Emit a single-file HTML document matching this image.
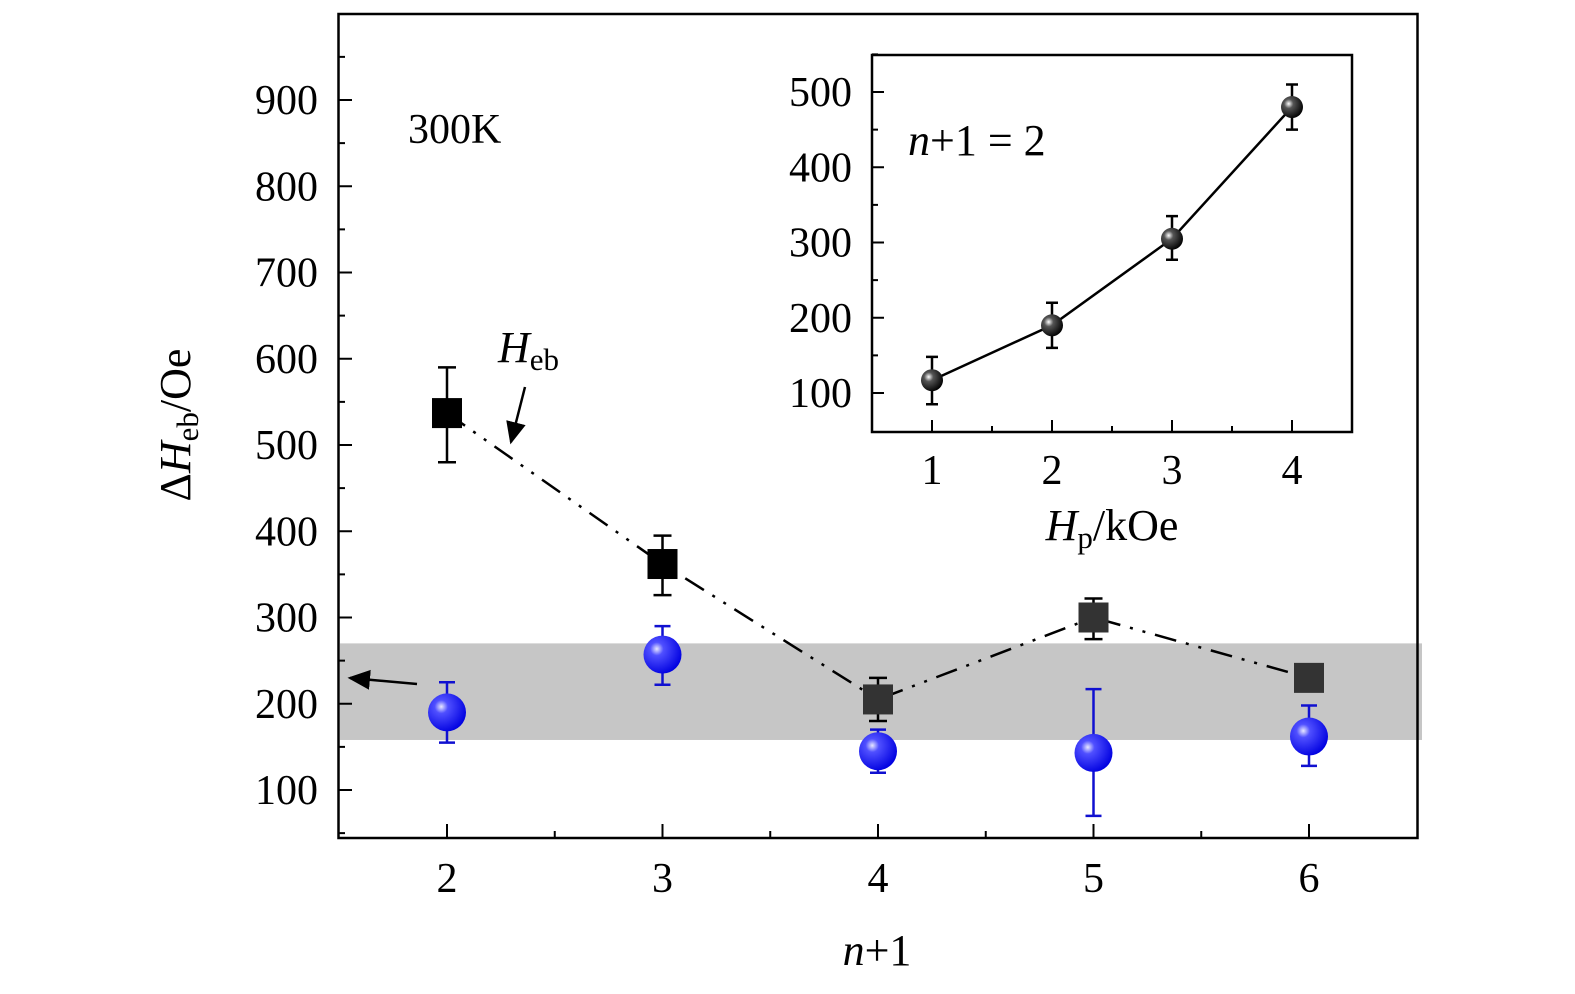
<!DOCTYPE html>
<html><head><meta charset="utf-8"><style>
html,body{margin:0;padding:0;background:#fff;overflow:hidden;width:1575px;height:994px;}
svg{display:block;}
svg text{font-family:"Liberation Serif",serif;fill:#000;}
</style></head><body>
<svg id="c" width="1575" height="994" xmlns="http://www.w3.org/2000/svg">
<defs>
<radialGradient id="bg" cx="0.35" cy="0.35" r="0.7"><stop offset="0" stop-color="#e8e8ff"/><stop offset="0.25" stop-color="#5050ff"/><stop offset="1" stop-color="#0000e0"/></radialGradient>
<radialGradient id="kg" cx="0.35" cy="0.35" r="0.7"><stop offset="0" stop-color="#fff"/><stop offset="0.3" stop-color="#555"/><stop offset="1" stop-color="#000"/></radialGradient>
<marker id="ah" markerWidth="10" markerHeight="10" refX="8" refY="5" orient="auto"><path d="M0,1 L9,5 L0,9 Z" fill="#000"/></marker>
</defs>
<g id="main"></g>
<g id="inset"></g>
</svg>
<script>
const cats=[2,3,4,5,6];
const hebVals=[537,362,205,300,230];
const hebLo=[480,326,180,275,218];
const hebHi=[590,395,230,322,240];
const dVals=[190,257,145,143,162];
const dLo=[155,222,120,70,128];
const dHi=[225,290,170,217,198];
const yTicks=[100,200,300,400,500,600,700,800,900];
const xTicks=[2,3,4,5,6];
const band=[158,270];
const insX=[1,2,3,4];
const insVals=[117,190,305,480];
const insLo=[85,160,277,450];
const insHi=[148,220,335,510];
const insYTicks=[100,200,300,400,500];

const NS="http://www.w3.org/2000/svg";
function el(p,t,a,name,txt){const e=document.createElementNS(NS,t);for(const k in a)e.setAttribute(k,a[k]);


if(txt!==undefined)e.textContent=txt;p.appendChild(e);return e;}
const m=document.getElementById('main');
const X=v=>447+(v-2)*215.5, Y=v=>876.25-v*0.8625;
el(m,'rect',{x:340,y:Y(band[1]),width:1082,height:Y(band[0])-Y(band[1]),fill:'#c6c6c6'},'highlight-band');
el(m,'rect',{x:338.5,y:14,width:1079,height:824,fill:'none',stroke:'#000','stroke-width':2.5},'plot-frame');
yTicks.forEach(t=>{el(m,'line',{x1:338,x2:352,y1:Y(t),y2:Y(t),stroke:'#000','stroke-width':2},'y-tick');
el(m,'line',{x1:338,x2:345,y1:Y(t+50),y2:Y(t+50),stroke:'#000','stroke-width':2},'y-minor-tick');
el(m,'text',{x:318,y:Y(t)+14,'font-size':42,'text-anchor':'end'},'y-tick-label',t);});
el(m,'line',{x1:338,x2:345,y1:Y(50),y2:Y(50),stroke:'#000','stroke-width':2},'y-minor-tick');
xTicks.forEach(t=>{el(m,'line',{x1:X(t),x2:X(t),y1:838,y2:824,stroke:'#000','stroke-width':2},'x-tick');
if(t<6)el(m,'line',{x1:X(t+0.5),x2:X(t+0.5),y1:838,y2:831,stroke:'#000','stroke-width':2},'x-minor-tick');
el(m,'text',{x:X(t),y:892,'font-size':42,'text-anchor':'middle'},'x-tick-label',t);});
const xt=el(m,'text',{x:877,y:965,'font-size':44,'text-anchor':'middle'},'x-axis-title','n+1');
xt.innerHTML='<tspan font-style="italic">n</tspan>+1';
const yt=el(m,'text',{transform:'translate(190,425) rotate(-90)','font-size':44,'text-anchor':'middle'},'y-axis-title','ΔH');
yt.innerHTML='Δ<tspan font-style="italic">H</tspan><tspan font-size="31" dy="8">eb</tspan><tspan dy="-8">/Oe</tspan>';
el(m,'text',{x:408,y:143,'font-size':42},'temperature-label','300K');
const hl=el(m,'text',{x:498,y:362,'font-size':44,'font-style':'italic'},'heb-label','H');
hl.innerHTML='H<tspan font-style="normal" font-size="31" dy="8">eb</tspan>';
el(m,'line',{x1:525,y1:387,x2:511,y2:442,stroke:'#000','stroke-width':2.5,'marker-end':'url(#ah)'},'heb-arrow');
el(m,'line',{x1:417,y1:684,x2:350,y2:678,stroke:'#000','stroke-width':2.5,'marker-end':'url(#ah)'},'band-arrow');
let d='';cats.forEach((c,i)=>{d+=(i?'L':'M')+X(c)+','+Y(hebVals[i]);});
el(m,'path',{d:d,fill:'none',stroke:'#000','stroke-width':2.5,'stroke-dasharray':'22,10,3,10,3,10'},'heb-line');
cats.forEach((c,i)=>{
el(m,'path',{d:`M${X(c)},${Y(dLo[i])}V${Y(dHi[i])}M${X(c)-8},${Y(dLo[i])}h16M${X(c)-8},${Y(dHi[i])}h16`,stroke:'#1010d0','stroke-width':2.5,fill:'none'},'delta-error-bar');
el(m,'circle',{cx:X(c),cy:Y(dVals[i]),r:19,fill:'url(#bg)'},'delta-point');
el(m,'path',{d:`M${X(c)},${Y(hebLo[i])}V${Y(hebHi[i])}M${X(c)-9},${Y(hebLo[i])}h18M${X(c)-9},${Y(hebHi[i])}h18`,stroke:'#000','stroke-width':2.5,fill:'none'},'heb-error-bar');
el(m,'rect',{x:X(c)-15,y:Y(hebVals[i])-15,width:30,height:30,fill:i>=2?'#333':'#000'},'heb-point');
});
const g=document.getElementById('inset');
const IX=v=>932+(v-1)*120, IY=v=>92+(500-v)*0.7525;
el(g,'rect',{x:872,y:55,width:480,height:377,fill:'#fff',stroke:'#000','stroke-width':2.5},'inset-frame');
insYTicks.forEach(t=>{el(g,'line',{x1:872,x2:884,y1:IY(t),y2:IY(t),stroke:'#000','stroke-width':2},'inset-y-tick');
el(g,'line',{x1:872,x2:878,y1:IY(t+50),y2:IY(t+50),stroke:'#000','stroke-width':2},'inset-y-minor-tick');
el(g,'text',{x:852,y:IY(t)+14,'font-size':42,'text-anchor':'end'},'inset-y-tick-label',t);});
insX.forEach(t=>{el(g,'line',{x1:IX(t),x2:IX(t),y1:432,y2:420,stroke:'#000','stroke-width':2},'inset-x-tick');
if(t<4)el(g,'line',{x1:IX(t+0.5),x2:IX(t+0.5),y1:432,y2:426,stroke:'#000','stroke-width':2},'inset-x-minor-tick');
el(g,'text',{x:IX(t),y:484,'font-size':42,'text-anchor':'middle'},'inset-x-tick-label',t);});
const ixt=el(g,'text',{x:1112,y:540,'font-size':44,'text-anchor':'middle'},'inset-x-axis-title','H');
ixt.innerHTML='<tspan font-style="italic">H</tspan><tspan font-size="31" dy="8">p</tspan><tspan dy="-8">/kOe</tspan>';
const il=el(g,'text',{x:908,y:155,'font-size':44},'inset-label','n+1 = 2');
il.innerHTML='<tspan font-style="italic">n</tspan>+1 = 2';
let d2='';insX.forEach((c,i)=>{d2+=(i?'L':'M')+IX(c)+','+IY(insVals[i]);});
el(g,'path',{d:d2,fill:'none',stroke:'#000','stroke-width':2.5},'inset-line');
insX.forEach((c,i)=>{
el(g,'path',{d:`M${IX(c)},${IY(insLo[i])}V${IY(insHi[i])}M${IX(c)-6},${IY(insLo[i])}h12M${IX(c)-6},${IY(insHi[i])}h12`,stroke:'#000','stroke-width':2.5,fill:'none'},'inset-error-bar');
el(g,'circle',{cx:IX(c),cy:IY(insVals[i]),r:11,fill:'url(#kg)'},'inset-point');
});
</script>
</body></html>
